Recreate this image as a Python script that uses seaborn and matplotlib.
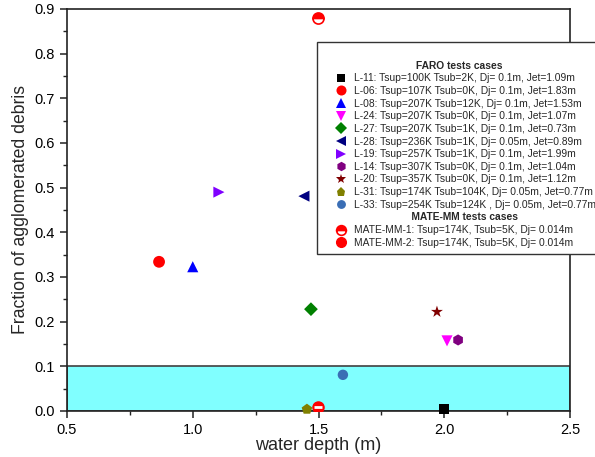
import matplotlib
matplotlib.use("Agg")
import matplotlib.pyplot as plt
from matplotlib.lines import Line2D
from matplotlib.ticker import MultipleLocator, FormatStrFormatter
import seaborn as sns
import pandas as pd

# ---- data ----
faro_names = ["L-11", "L-06", "L-08", "L-24", "L-27", "L-28", "L-19", "L-14", "L-20", "L-31", "L-33"]
faro_labels = [
    "L-11: Tsup=100K Tsub=2K, Dj= 0.1m, Jet=1.09m",
    "L-06: Tsup=107K Tsub=0K, Dj= 0.1m, Jet=1.83m",
    "L-08: Tsup=207K Tsub=12K, Dj= 0.1m, Jet=1.53m",
    "L-24: Tsup=207K Tsub=0K, Dj= 0.1m, Jet=1.07m",
    "L-27: Tsup=207K Tsub=1K, Dj= 0.1m, Jet=0.73m",
    "L-28: Tsup=236K Tsub=1K, Dj= 0.05m, Jet=0.89m",
    "L-19: Tsup=257K Tsub=1K, Dj= 0.1m, Jet=1.99m",
    "L-14: Tsup=307K Tsub=0K, Dj= 0.1m, Jet=1.04m",
    "L-20: Tsup=357K Tsub=0K, Dj= 0.1m, Jet=1.12m",
    "L-31: Tsup=174K Tsub=104K, Dj= 0.05m, Jet=0.77m",
    "L-33: Tsup=254K Tsub=124K , Dj= 0.05m, Jet=0.77m",
]
faro_depth = [2.0, 0.866, 1.0, 2.011, 1.470, 1.442, 1.104, 2.055, 1.971, 1.454, 1.597]
faro_frac = [0.004, 0.334, 0.323, 0.157, 0.228, 0.481, 0.490, 0.159, 0.222, 0.004, 0.081]

mate_labels = ["MATE-MM-1: Tsup=174K, Tsub=5K, Dj= 0.014m",
               "MATE-MM-2: Tsup=174K, Tsub=5K, Dj= 0.014m"]
mate_depth = [1.498, 1.498]
mate_frac = [0.880, 0.009]

# ---- styles ----
faro_colors = ["#000000", "#FF0000", "#0000FF", "#FF00FF", "#008000", "#000080",
               "#8000FF", "#800080", "#800000", "#808000", "#3A6EB5"]
faro_markers = ["s", "o", "^", "v", "D", "<", ">", "h", "*", "p", "o"]
faro_sizes = [7, 8.5, 8, 8, 7, 8, 8, 8, 9, 8, 7.5]

sns.set_theme(style="ticks")
plt.rcParams["font.family"] = ["Liberation Sans", "DejaVu Sans"]

fig = plt.figure(figsize=(5.95, 4.57), dpi=100)
ax = fig.add_axes([67 / 595, 46 / 457, (570 - 67) / 595, (411 - 9) / 457])

ax.axhspan(0, 0.1, facecolor="#80FFFF", edgecolor="#404040", linewidth=1.2, zorder=1)

df = pd.DataFrame({"name": faro_names, "depth": faro_depth, "frac": faro_frac})
sns.scatterplot(data=df, x="depth", y="frac", hue="name", style="name",
                palette=dict(zip(faro_names, faro_colors)),
                markers=dict(zip(faro_names, faro_markers)),
                size="name", sizes=dict(zip(faro_names, [s ** 2 for s in faro_sizes])),
                linewidth=0, legend=False, ax=ax, zorder=3, clip_on=False)

# MATE-MM points (half-filled circles)
ax.plot(mate_depth[0], mate_frac[0], marker="o", ms=8, color="red", fillstyle="top",
        markerfacecoloralt="white", markeredgecolor="red", mew=1.2, ls="none", zorder=4)
ax.plot(mate_depth[1], mate_frac[1], marker="o", ms=8, color="red", markeredgecolor="red",
        ls="none", zorder=4)
ax.plot(mate_depth[1], mate_frac[1], marker="_", ms=6, color="white", mew=2, ls="none", zorder=5)

ax.set_xlim(0.5, 2.5)
ax.set_ylim(0, 0.9)
ax.xaxis.set_major_locator(MultipleLocator(0.5))
ax.xaxis.set_minor_locator(MultipleLocator(0.25))
ax.yaxis.set_major_locator(MultipleLocator(0.1))
ax.yaxis.set_minor_locator(MultipleLocator(0.05))
ax.xaxis.set_major_formatter(FormatStrFormatter("%.1f"))
ax.yaxis.set_major_formatter(FormatStrFormatter("%.1f"))
ax.tick_params(which="major", direction="out", length=5, width=1.1, labelsize=10.5,
               colors="#222222", labelcolor="black", top=False, right=False)
ax.tick_params(which="minor", direction="out", length=3, width=1.0, colors="#222222",
               top=False, right=False)
for sp in ax.spines.values():
    sp.set_visible(True)
    sp.set_color("#222222")
    sp.set_linewidth(1.2)

ax.set_xlabel("water depth (m)", fontsize=13, labelpad=0)
ax.set_ylabel("Fraction of agglomerated debris", fontsize=12.7, labelpad=4)

# ---- legend ----
handles = []
labels = []
for lab, c, m, s in zip(faro_labels, faro_colors, faro_markers, faro_sizes):
    handles.append(Line2D([], [], ls="none", marker=m, color=c, mew=0, ms=s * 0.85))
    labels.append(lab)
handles.append(Line2D([], [], ls="none"))
labels.append("MATE-MM tests cases")
handles.append(Line2D([], [], ls="none", marker="o", ms=7, color="red", fillstyle="top",
                      markerfacecoloralt="white", markeredgecolor="red", mew=1.2))
labels.append(mate_labels[0])
handles.append(Line2D([], [], ls="none", marker="o", ms=7, color="red", markeredgecolor="red"))
labels.append(mate_labels[1])

fs = 7.35
leg = ax.legend(handles, labels, loc="upper left", bbox_to_anchor=(0.497, 0.917),
                fontsize=fs, title="\nFARO tests cases",
                title_fontproperties={"weight": "bold", "size": fs},
                frameon=True, fancybox=False, edgecolor="#333333", framealpha=1,
                borderpad=0.65, labelspacing=0.26, handlelength=3.35, handletextpad=-0.4,
                borderaxespad=0)
leg.get_frame().set_linewidth(1.0)
leg.set_zorder(10)
for t in leg.get_texts():
    if t.get_text() == "MATE-MM tests cases":
        t.set_fontweight("bold")
        t.set_text(" " * 20 + "MATE-MM tests cases")

fig.savefig("out.png", dpi=100)
